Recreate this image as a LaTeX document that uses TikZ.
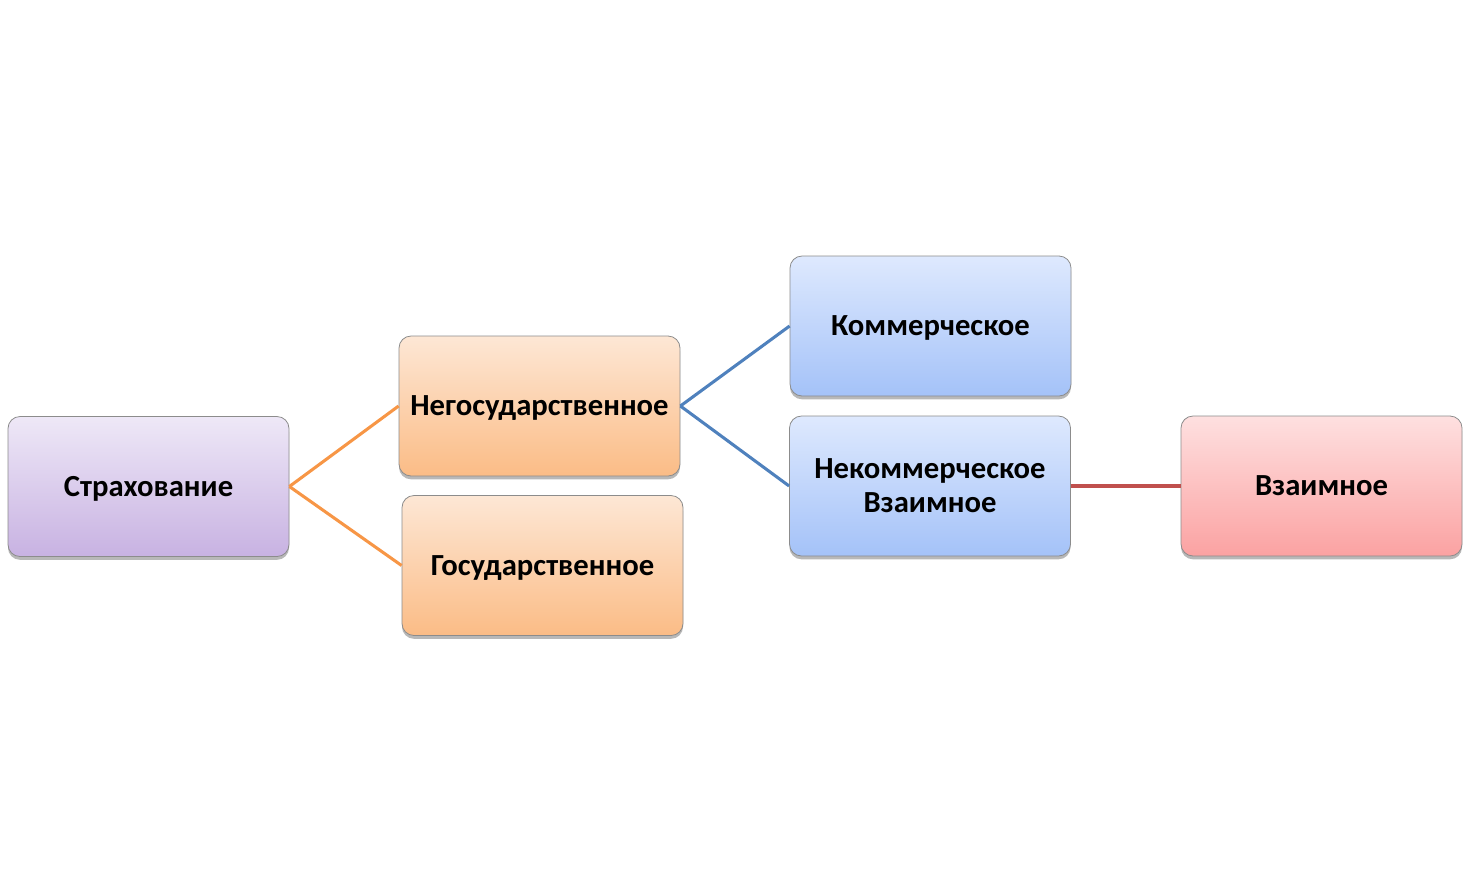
\documentclass[tikz,border=0pt]{standalone}
\usepackage{fontspec}
\setmainfont{Carlito}
\usetikzlibrary{shadows}
\definecolor{purT}{HTML}{EEE8F7}
\definecolor{purB}{HTML}{C8B2E2}
\definecolor{orT}{HTML}{FDE7D5}
\definecolor{orB}{HTML}{FBBC86}
\definecolor{blT}{HTML}{DEE9FE}
\definecolor{blB}{HTML}{A4C2F8}
\definecolor{rdT}{HTML}{FEE0E0}
\definecolor{rdB}{HTML}{FBA2A2}
\definecolor{lnO}{HTML}{F79646}
\definecolor{lnB}{HTML}{4F81BD}
\definecolor{lnR}{HTML}{C0504D}
\tikzset{
  box/.style={draw=black!45, line width=0.6pt, rounded corners=9pt,
    minimum width=210.75pt, minimum height=105pt, align=center,
    font=\fontsize{23}{25.5}\selectfont\bfseries, inner sep=2pt,
    drop shadow={shadow xshift=0pt, shadow yshift=-2.5pt, opacity=0.35, fill=black!80}},
  one/.style={text depth=0pt},
  pur/.style={box, top color=purT, bottom color=purB},
  ora/.style={box, top color=orT, bottom color=orB},
  blu/.style={box, top color=blT, bottom color=blB},
  red/.style={box, top color=rdT, bottom color=rdB},
  conn/.style={line width=2.3pt}
}
\begin{document}
\begin{tikzpicture}[x=0.75pt,y=-0.75pt]
\useasboundingbox (0,0) rectangle (1470,893);
\node[pur,one] (s) at (148.5,486.5) {Страхование};
\node[ora,one] (n) at (539.5,406) {Негосударственное};
\node[ora,one] (g) at (542.5,565.5) {Государственное};
\node[blu,one] (k) at (930.5,326) {Коммерческое};
\node[blu] (nk) at (930,486) {Некоммерческое\\Взаимное};
\node[red,one] (v) at (1321.5,486) {Взаимное};
\draw[conn, lnO] (s.east) -- (n.west);
\draw[conn, lnO] (s.east) -- (g.west);
\draw[conn, lnB] (n.east) -- (k.west);
\draw[conn, lnB] (n.east) -- (nk.west);
\draw[conn, lnR] (nk.east) -- (v.west);
\end{tikzpicture}
\end{document}
